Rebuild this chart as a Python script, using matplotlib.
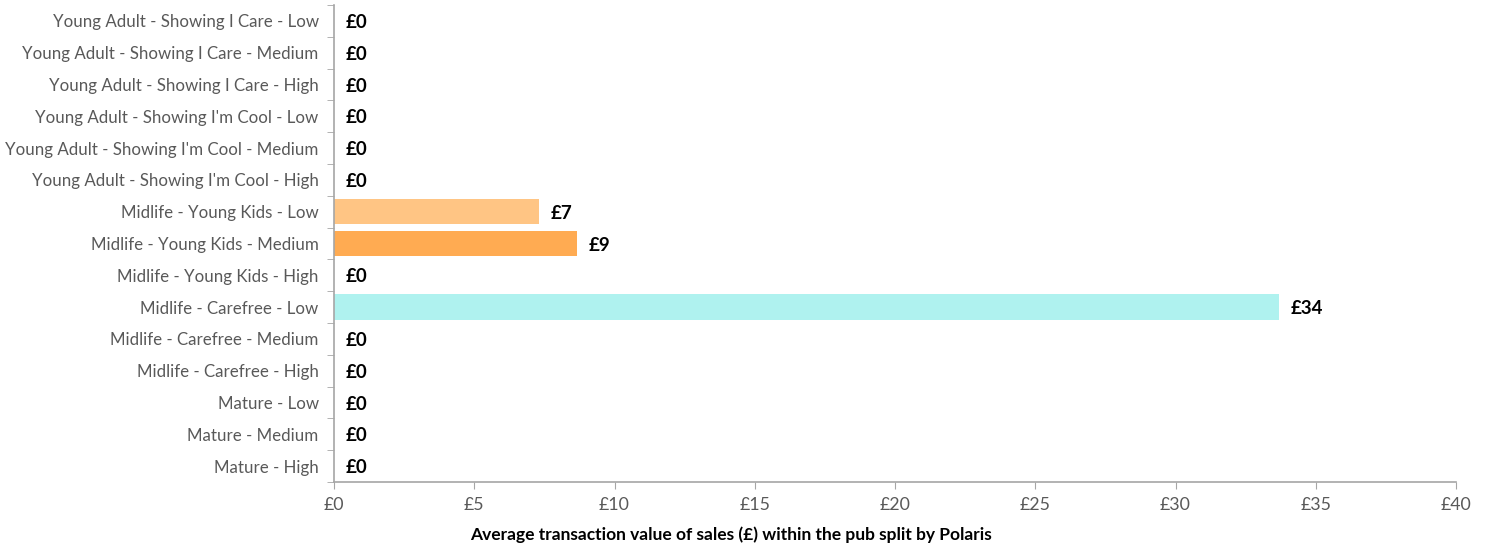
import matplotlib
matplotlib.use("Agg")
import matplotlib.pyplot as plt
import numpy as np

categories = [
    "Young Adult - Showing I Care - Low",
    "Young Adult - Showing I Care - Medium",
    "Young Adult - Showing I Care - High",
    "Young Adult - Showing I'm Cool - Low",
    "Young Adult - Showing I'm Cool - Medium",
    "Young Adult - Showing I'm Cool - High",
    "Midlife - Young Kids - Low",
    "Midlife - Young Kids - Medium",
    "Midlife - Young Kids - High",
    "Midlife - Carefree - Low",
    "Midlife - Carefree - Medium",
    "Midlife - Carefree - High",
    "Mature - Low",
    "Mature - Medium",
    "Mature - High",
]
values = [0, 0, 0, 0, 0, 0, 7.3, 8.66, 0, 33.7, 0, 0, 0, 0, 0]
value_labels = ["£0", "£0", "£0", "£0", "£0", "£0", "£7", "£9", "£0", "£34", "£0", "£0", "£0", "£0", "£0"]
colors = ["#C9C9C9", "#A5A5A5", "#7F7F7F", "#9DC3E6", "#5B9BD5", "#2E75B6",
          "#FFC584", "#FFAB52", "#F08A24", "#AFF2EF", "#6FD8D3", "#3BB3AE",
          "#C5E0B4", "#A9D18E", "#70AD47"]
x_ticks = [0, 5, 10, 15, 20, 25, 30, 35, 40]
x_tick_labels = ["£0", "£5", "£10", "£15", "£20", "£25", "£30", "£35", "£40"]
x_label = "Average transaction value of sales (£) within the pub split by Polaris"

plt.rcParams['font.family'] = ['Lato', 'DejaVu Sans']

fig = plt.figure(figsize=(14.91, 5.48), dpi=100)
ax = fig.add_axes([334/1491, 1 - 482/548, (1456-334)/1491, (482-5)/548])

y = np.arange(len(categories))
ax.barh(y, values, height=0.8, color=colors)
ax.set_ylim(len(categories) - 0.5, -0.5)
ax.set_xlim(0, 40)

for yi, v, lab in zip(y, values, value_labels):
    ax.annotate(lab, xy=(v, yi), xytext=(8.5, -1.2), textcoords="offset points",
                ha="left", va="center", fontsize=13.5, fontweight="bold", color="black")

ax.set_yticks(y)
ax.set_yticklabels(categories, fontsize=12.2, color="#595959")
ax.tick_params(axis="y", which="major", length=0, pad=11)
ax.set_yticks(np.arange(-0.5, len(categories), 1), minor=True)
ax.tick_params(axis="y", which="minor", length=5, color="#A6A6A6", direction="out")

ax.set_xticks(x_ticks)
ax.set_xticklabels(x_tick_labels, fontsize=12.8, color="#595959")
ax.tick_params(axis="x", length=5, color="#A6A6A6", direction="out", pad=6)
fig.text(731/1491, 1 - 535/548, x_label, fontsize=12.5, fontweight="bold",
         color="black", ha="center", va="center")

for s in ["top", "right"]:
    ax.spines[s].set_visible(False)
for s in ["left", "bottom"]:
    ax.spines[s].set_color("#A6A6A6")
    ax.spines[s].set_linewidth(1.2)

fig.savefig("out.png", dpi=100)
